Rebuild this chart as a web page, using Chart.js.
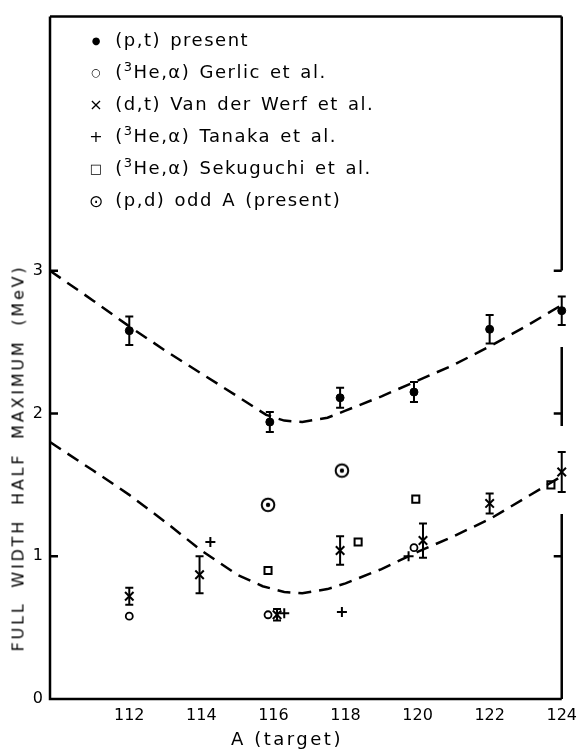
<!DOCTYPE html>
<html>
<head>
<meta charset="utf-8">
<script src="https://cdn.jsdelivr.net/npm/chart.js@4.4.1/dist/chart.umd.min.js"></script>
<style>
  html, body { margin: 0; padding: 0; background: #fff; }
  #wrap { position: relative; width: 584px; height: 750px; }
  #wrap canvas { position: absolute; left: 0; top: 0; }
  .txt { position: absolute; font-family: "DejaVu Sans", sans-serif; color: #000; white-space: nowrap; }
  #legend { left: 86px; top: 29px; font-size: 18px; letter-spacing: 1.5px; word-spacing: 2px; }
  #legend div { height: 32px; line-height: 22px; }
  #legend .m { display: inline-block; width: 20px; text-align: center; letter-spacing: 0; vertical-align: middle; line-height: 22px; }
  #legend sup { font-size: 13px; line-height: 0; }
  #ytitle { left: 18px; top: 458px; font-size: 16px; letter-spacing: 2.8px; word-spacing: 6px;
            transform: translate(-50%, -50%) rotate(-90deg); }
  #xtitle { left: 287px; top: 738px; font-size: 18px; letter-spacing: 2.5px; transform: translate(-50%, -50%); }
</style>
</head>
<body>
<div id="wrap">
  <canvas id="c" width="584" height="750"></canvas>
  <div id="legend" class="txt">
    <div><span class="m" style="font-size:10px">●</span> (p,t) present</div>
    <div><span class="m" style="font-size:11px">○</span> (<sup>3</sup>He,α) Gerlic et al.</div>
    <div><span class="m" style="font-size:16px">×</span> (d,t) Van der Werf et al.</div>
    <div><span class="m" style="font-size:16px">+</span> (<sup>3</sup>He,α) Tanaka et al.</div>
    <div><span class="m" style="font-size:13px">□</span> (<sup>3</sup>He,α) Sekuguchi et al.</div>
    <div><span class="m" style="font-size:17px">⊙</span> (p,d) odd A (present)</div>
  </div>
  <div id="ytitle" class="txt">FULL WIDTH HALF MAXIMUM (MeV)</div>
  <div id="xtitle" class="txt">A (target)</div>
</div>
<script>
// axis ranges and tick labels
const xMin = 109.8, xMax = 124;
const yMin = 0, yMax = 4.78;
const xTicks = [112, 114, 116, 118, 120, 122, 124];
const yTicks = [0, 1, 2, 3];

// (p,t) present — filled circles with error bars
const ptA   = [112, 115.9, 117.85, 119.9, 122, 124];
const ptY   = [2.58, 1.94, 2.11, 2.15, 2.59, 2.72];
const ptErr = [0.10, 0.07, 0.07, 0.07, 0.10, 0.10];

// (3He,a) Gerlic et al. — open circles
const gerA = [112, 115.85, 119.9];
const gerY = [0.58, 0.59, 1.06];

// (d,t) Van der Werf et al. — crosses with error bars
const werfA   = [112, 113.95, 116.1, 117.85, 120.15, 122, 124];
const werfY   = [0.72, 0.87, 0.59, 1.04, 1.11, 1.37, 1.59];
const werfErr = [0.06, 0.13, 0.04, 0.10, 0.12, 0.07, 0.14];

// (3He,a) Tanaka et al. — plus signs
const tanA = [114.25, 116.3, 117.9, 119.75];
const tanY = [1.10, 0.60, 0.61, 1.00];

// (3He,a) Sekuguchi et al. — open squares
const sekA = [115.85, 118.35, 119.95, 123.7];
const sekY = [0.90, 1.10, 1.40, 1.50];

// (p,d) odd A (present) — circled dots
const pdA = [115.85, 117.9];
const pdY = [1.36, 1.60];

// dashed guide curves
const upA = [109.8, 111, 112, 113, 114, 115, 115.8, 116.3, 116.8, 117.5, 118, 119, 120, 121, 122, 123, 124];
const upY = [3.00, 2.79, 2.61, 2.44, 2.28, 2.12, 1.99, 1.95, 1.94, 1.97, 2.02, 2.12, 2.23, 2.34, 2.47, 2.61, 2.76];
const loA = [109.8, 111, 112, 113, 114, 115, 115.7, 116.3, 116.8, 117.5, 118, 119, 120, 121, 122, 123, 124];
const loY = [1.80, 1.60, 1.43, 1.24, 1.04, 0.87, 0.79, 0.75, 0.74, 0.77, 0.81, 0.91, 1.03, 1.14, 1.26, 1.41, 1.56];

const pts = (xs, ys) => xs.map((x, i) => ({ x, y: ys[i] }));

function circledDot() {
  const c = document.createElement('canvas');
  c.width = c.height = 18;
  const g = c.getContext('2d');
  g.lineWidth = 2;
  g.beginPath(); g.arc(9, 9, 6.3, 0, Math.PI * 2); g.stroke();
  g.beginPath(); g.arc(9, 9, 2.2, 0, Math.PI * 2); g.fill();
  return c;
}

// error bars drawn from dataset.errorBars through the scales
const errorBars = {
  id: 'errorBars',
  afterDatasetsDraw(chart) {
    const { ctx, scales: { x, y } } = chart;
    ctx.save();
    ctx.strokeStyle = '#000';
    ctx.lineWidth = 2;
    chart.data.datasets.forEach(ds => {
      if (!ds.errorBars) return;
      ds.data.forEach((p, i) => {
        const px = x.getPixelForValue(p.x);
        const y0 = y.getPixelForValue(p.y - ds.errorBars[i]);
        const y1 = y.getPixelForValue(p.y + ds.errorBars[i]);
        ctx.beginPath();
        ctx.moveTo(px, y0); ctx.lineTo(px, y1);
        ctx.moveTo(px - 4, y0); ctx.lineTo(px + 4, y0);
        ctx.moveTo(px - 4, y1); ctx.lineTo(px + 4, y1);
        ctx.stroke();
      });
    });
    ctx.restore();
  }
};

// frame: left/bottom/top axes, right axis broken around points at the edge, inward ticks
const frame = {
  id: 'frame',
  afterDatasetsDraw(chart) {
    const { ctx, chartArea: a, scales: { x, y } } = chart;
    ctx.save();
    ctx.strokeStyle = '#000';
    ctx.lineWidth = 2.5;
    ctx.beginPath();
    ctx.moveTo(a.left, a.top); ctx.lineTo(a.left, a.bottom); ctx.lineTo(a.right, a.bottom);
    ctx.moveTo(a.left, a.top); ctx.lineTo(a.right, a.top);
    const gaps = [];
    chart.data.datasets.forEach(ds => {
      if (!ds.errorBars) return;
      ds.data.forEach((p, i) => {
        if (p.x < xMax - 0.1) return;
        gaps.push([y.getPixelForValue(p.y + ds.errorBars[i]) - 26, y.getPixelForValue(p.y - ds.errorBars[i]) + 22]);
      });
    });
    gaps.sort((g1, g2) => g1[0] - g2[0]);
    let yy = a.top;
    gaps.forEach(g => {
      ctx.moveTo(a.right, yy); ctx.lineTo(a.right, g[0]);
      yy = g[1];
    });
    ctx.moveTo(a.right, yy); ctx.lineTo(a.right, a.bottom);
    yTicks.forEach(v => {
      if (v === 0) return;
      const py = y.getPixelForValue(v);
      ctx.moveTo(a.left, py); ctx.lineTo(a.left + 8, py);
      ctx.moveTo(a.right, py); ctx.lineTo(a.right - 8, py);
    });
    ctx.stroke();
    ctx.restore();
  }
};

const dashed = {
  type: 'line', showLine: true, borderColor: '#000', borderWidth: 2.5,
  borderDash: [13, 8], pointRadius: 0, tension: 0, fill: false
};

new Chart(document.getElementById('c'), {
  type: 'scatter',
  data: {
    datasets: [
      { ...dashed, label: 'upper fit', data: pts(upA, upY) },
      { ...dashed, label: 'lower fit', data: pts(loA, loY) },
      { label: '(p,t) present', data: pts(ptA, ptY), errorBars: ptErr, clip: false,
        pointStyle: 'circle', pointRadius: 4, backgroundColor: '#000', borderColor: '#000', borderWidth: 1 },
      { label: 'Gerlic', data: pts(gerA, gerY), clip: false,
        pointStyle: 'circle', pointRadius: 3.5, backgroundColor: '#fff', borderColor: '#000', borderWidth: 1.8 },
      { label: 'Van der Werf', data: pts(werfA, werfY), errorBars: werfErr, clip: false,
        pointStyle: 'crossRot', pointRadius: 6, borderColor: '#000', borderWidth: 2 },
      { label: 'Tanaka', data: pts(tanA, tanY), clip: false,
        pointStyle: 'cross', pointRadius: 5, borderColor: '#000', borderWidth: 2 },
      { label: 'Sekuguchi', data: pts(sekA, sekY), clip: false,
        pointStyle: 'rect', pointRadius: 5, backgroundColor: '#fff', borderColor: '#000', borderWidth: 2 },
      { label: '(p,d) odd A', data: pts(pdA, pdY), pointStyle: circledDot(), clip: false }
    ]
  },
  options: {
    responsive: false,
    animation: false,
    layout: { padding: { top: 4, right: 19, left: 0, bottom: 0 } },
    plugins: { legend: { display: false }, tooltip: { enabled: false } },
    scales: {
      x: {
        type: 'linear', min: xMin, max: xMax,
        afterBuildTicks: s => { s.ticks = xTicks.map(v => ({ value: v })); },
        afterFit: s => { s.height = 51; },
        grid: { display: false, drawTicks: false }, border: { display: false },
        ticks: { color: '#000', padding: 7, maxRotation: 0, font: { family: 'DejaVu Sans', size: 16 } }
      },
      y: {
        min: yMin, max: yMax,
        afterBuildTicks: s => { s.ticks = yTicks.map(v => ({ value: v })); },
        afterFit: s => { s.width = 50; },
        grid: { display: false, drawTicks: false }, border: { display: false },
        ticks: { color: '#000', padding: 7, font: { family: 'DejaVu Sans', size: 16 } }
      }
    }
  },
  plugins: [errorBars, frame]
});
</script>
</body>
</html>
